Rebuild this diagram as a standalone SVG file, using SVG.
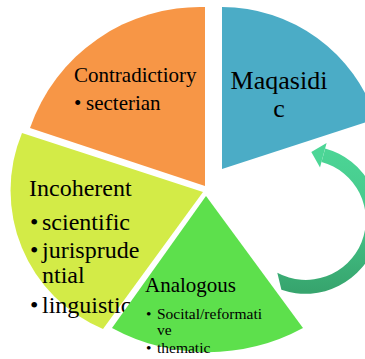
<svg xmlns="http://www.w3.org/2000/svg" width="365" height="359" viewBox="0 0 365 359">
  <defs>
    <linearGradient id="arrowGrad" gradientUnits="userSpaceOnUse" x1="0" y1="145" x2="0" y2="290">
      <stop offset="0" stop-color="#4CD696"/>
      <stop offset="0.45" stop-color="#46C98C"/>
      <stop offset="1" stop-color="#37A56E"/>
    </linearGradient>
  </defs>
  <style>
    text { font-family: "Liberation Serif", "Times New Roman", serif; fill: #000; }
    .big { font-size: 24px; }
    .mid { font-size: 21px; }
    .small { font-size: 15.5px; }
    .title { font-size: 26px; }
  </style>
  <rect width="365" height="359" fill="#fff"/>

  <g id="maqasidic">
    <path d="M222,169 L222,7 A162,162 0 0 1 376,119 Z" fill="#4BACC6"/>
    <text class="title" x="279" y="89" text-anchor="middle">Maqasidi</text>
    <text class="title" x="279" y="117" text-anchor="middle">c</text>
  </g>

  <g id="contradictory">
    <path d="M205,186 L30,128 A180,180 0 0 1 205,7 Z" fill="#F79646"/>
    <text class="mid" x="74" y="82">Contradictiory</text>
    <text class="mid" x="74" y="110">•</text>
    <text class="mid" x="86" y="110">secterian</text>
  </g>

  <g id="incoherent">
    <path d="M203,192 L103,329 A150,150 0 0 1 22,133 Z" fill="#D3EB47"/>
    <text class="big" x="29" y="196">Incoherent</text>
    <text class="big" x="30" y="230">•</text>
    <text class="big" x="42" y="230">scientific</text>
    <text class="big" x="30" y="258">•</text>
    <text class="big" x="42" y="258">jurisprude</text>
    <text class="big" x="42" y="283">ntial</text>
    <text class="big" x="30" y="313">•</text>
    <text class="big" x="42" y="313">linguistic</text>
  </g>

  <g id="analogous">
    <path d="M206,196 L303,328 A200,200 0 0 1 112,328 Z" fill="#5DE04C"/>
    <text class="mid" x="145" y="292">Analogous</text>
    <text class="small" x="146" y="319">•</text>
    <text class="small" x="157" y="319">Socital/reformati</text>
    <text class="small" x="157" y="335">ve</text>
    <text class="small" x="146" y="353">•</text>
    <text class="small" x="157" y="353">thematic</text>
  </g>

  <g id="connectors">
    <path d="M281.4,289.8 A74,74 0 1 0 325.2,148.5 L321.5,162 A60,60 0 1 1 277.3,272.7 Z" fill="url(#arrowGrad)"/>
    <polygon points="326.6,143 320,167.6 311.3,152" fill="#4CD696"/>
  </g>
</svg>
